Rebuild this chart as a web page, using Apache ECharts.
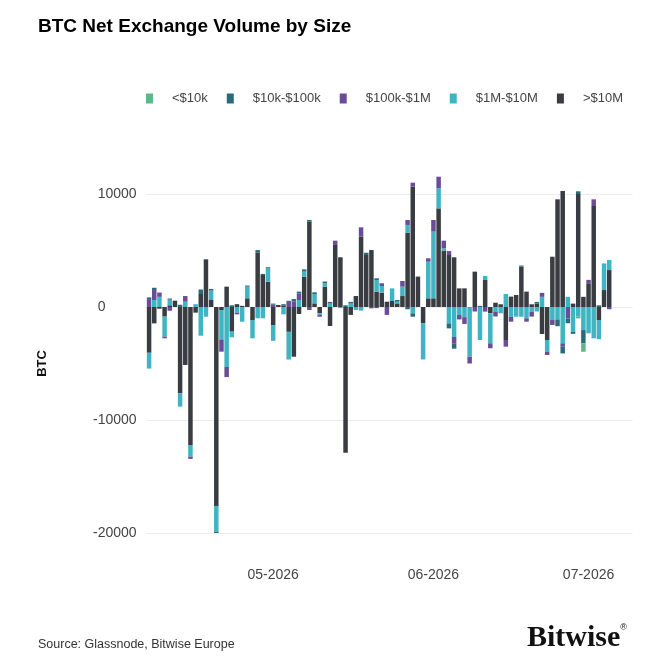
<!DOCTYPE html>
<html>
<head>
<meta charset="utf-8">
<script src="https://cdn.jsdelivr.net/npm/echarts@6/dist/echarts.min.js"></script>
<style>
  html, body { margin: 0; padding: 0; background: #fff; }
  #chart { width: 671px; height: 671px; }
</style>
</head>
<body>
<div id="chart"></div>
<script>
// daily categories, Apr 7 .. Jul 9 2026 (data ends Jul 5)
const startDay = Date.UTC(2026, 3, 7)
const dayCount = 94
const days = []
for (let i = 0; i < dayCount; i++) {
  days.push(new Date(startDay + i * 86400000).toISOString().slice(0, 10))
}

const legendNames = ['<$10k', '$10k-$100k', '$100k-$1M', '$1M-$10M', '>$10M']

// BTC
const over10M = [
  -4050, -1450, -150, -850, 150, 560, -7640, -5130, -12210, -500,
  1150, 4220, 620, -17600, -265, 1800, -2180, 250, 100, 770,
  -1150, 4800, 2830, 2240, -1600, 180, 150, -2200, -4400, -620,
  2690, 7550, 320, -560, 1800, -1680, 5490, 4400, -12900, -700,
  970, 6220, 4600, 5040, 1360, 1270, 470, 530, 320, 970,
  6580, 10650, 2690, -1450, 770, 770, 8730, 4990, 4600, 4400,
  1650, 1650, 0, 3130, 0, 2390, -560, 380, 240, -2920,
  920, 1060, 3570, 1360, 240, 300, -2390, -2920, 4450, 9530,
  10270, 0, 300, 10000, 900, 2100, 8940, -1150, 1500, 3270
]
const m1to10M = [
  -1400, 620, 900, -1770, 500, 0, -1180, 470, -1030, 250,
  -2540, -860, 830, -2280, -2600, -5300, -500, -500, -1300, 1030,
  -1620, -1000, -1000, 1180, -1390, 0, -650, -2450, 0, 620,
  440, 0, 830, -150, 300, 300, 0, -100, 0, 300,
  -260, -320, 0, 0, 1030, 590, 0, 1120, 150, 830,
  680, -560, 0, -3190, 3240, 5900, 1770, 200, -1450, -2650,
  -700, -900, -4400, 0, -2920, 350, -2650, -400, -560, 1150,
  -860, -860, -860, -1000, -410, -400, 900, -1030, -1150, -1100,
  -3210, 900, -2180, -860, -2040, -2330, -2770, -1700, 2360, 890
]
const k100to1M = [
  700, 880, 380, -150, -330, 0, 0, 500, -200, 0,
  0, 0, 0, 0, -1090, -900, 0, -150, 0, 0,
  0, 0, 0, 0, 200, 0, 0, 450, 500, 590,
  0, -270, 0, -150, 0, 150, 380, 0, 0, 0,
  0, 830, 0, -120, -100, 240, -700, 0, 0, 500,
  440, 350, 0, 0, 300, 1030, 1030, 680, 350, -600,
  -400, -600, -600, -400, 0, -410, -440, -440, 0, -590,
  -440, 0, 0, -300, -440, 0, 350, -300, -440, 0,
  -300, -1000, 0, 0, 0, 300, 590, 0, 0, -200
]
const k10to100k = [
  150, 200, 0, 0, 100, 0, 200, 0, 0, 0,
  400, 0, 150, -120, 0, 0, 150, 0, 0, 100,
  0, 240, 100, 100, 100, 0, 100, 100, 200, 150,
  200, 150, 150, 0, 150, 0, 0, 0, 150, 150,
  0, 0, 200, 0, 150, 0, 0, 0, 150, 0,
  -200, -300, 0, 0, 0, 0, 0, 0, -440, -440,
  0, 0, 0, 0, 100, 0, 0, 0, 0, 0,
  0, 0, 100, 0, 0, 150, 0, 0, 0, -600,
  -600, -440, -200, 240, -1180, 0, 0, 150, 0, 0
]
const under10k = [
  0, 0, 0, 0, 0, 0, 0, 0, 0, 0,
  0, 0, 0, 0, 0, 0, 0, 0, 0, 0,
  0, 0, 0, 0, 0, 0, 0, 0, 0, 0,
  0, 0, 0, 0, 0, 0, 0, 0, 0, 0,
  0, 0, 0, 0, 0, 0, 0, 0, 0, 0,
  0, 0, 0, 0, 0, 0, 0, 0, 0, 0,
  0, 0, 0, 0, 0, 0, 0, 0, 0, 0,
  0, 0, 0, 0, 0, 0, 0, 0, 0, 0,
  0, 0, 0, -150, -740, 0, 0, 0, 0, 0
]

const colors = {
  '<$10k': '#5cb88a',
  '$10k-$100k': '#2a6b79',
  '$100k-$1M': '#6a4c98',
  '$1M-$10M': '#3fb4c2',
  '>$10M': '#393c40',
}

const font = 'Liberation Sans, Arial, sans-serif'

// stack order from zero outwards: >$10M first
const stackOrder = [
  ['>$10M', over10M],
  ['$1M-$10M', m1to10M],
  ['$100k-$1M', k100to1M],
  ['$10k-$100k', k10to100k],
  ['<$10k', under10k],
]

const chart = echarts.init(document.getElementById('chart'))

chart.setOption({
  animation: false,
  backgroundColor: '#fff',
  title: {
    text: 'BTC Net Exchange Volume by Size',
    left: 38,
    top: 17,
    padding: 0,
    textStyle: { fontFamily: font, fontSize: 19, fontWeight: 'bold', color: '#000' },
  },
  legend: {
    data: legendNames,
    left: 141,
    top: 87,
    icon: 'rect',
    itemWidth: 7,
    itemHeight: 10,
    itemGap: 19,
    textStyle: { fontFamily: font, fontSize: 13, color: '#444', padding: [0, 0, 0, 14] },
  },
  grid: { left: 146.5, right: 38.5, top: 194, bottom: 138 },
  xAxis: {
    type: 'category',
    data: days,
    axisLine: { show: false },
    axisTick: { show: false },
    axisLabel: {
      color: '#444',
      fontFamily: font,
      fontSize: 14,
      margin: 35,
      interval: (idx, val) => val.slice(8) === '01',
      formatter: (val) => val.slice(5, 7) + '-' + val.slice(0, 4),
    },
  },
  yAxis: {
    type: 'value',
    min: -20000,
    max: 10000,
    interval: 10000,
    name: 'BTC',
    nameLocation: 'middle',
    nameGap: 98,
    nameTextStyle: { fontFamily: font, fontSize: 13, fontWeight: 'bold', color: '#111' },
    axisLine: { show: false },
    axisTick: { show: false },
    axisLabel: {
      color: '#444',
      fontFamily: font,
      fontSize: 14,
      align: 'left',
      margin: 53.5,
      // digits line up, the minus sign hangs to the left
      formatter: (v) => (v < 0 ? '-' + Math.abs(v) : '{h|-}' + v),
      rich: { h: { color: 'rgba(0,0,0,0)', fontFamily: font, fontSize: 14 } },
    },
    splitLine: { lineStyle: { color: '#ececec', width: 1 } },
  },
  series: stackOrder.map(([name, values]) => ({
    name,
    type: 'bar',
    stack: 'total',
    barWidth: '87%',
    clip: false,
    itemStyle: { color: colors[name] },
    emphasis: { disabled: true },
    data: values,
  })),
  graphic: [
    {
      type: 'text',
      left: 38,
      top: 638,
      style: { text: 'Source: Glassnode, Bitwise Europe', font: '12.5px ' + font, fill: '#333' },
    },
    {
      type: 'text',
      left: 527,
      top: 623,
      style: {
        text: '{b|Bitwise}{r|®}',
        rich: {
          b: { font: 'bold 30px Liberation Serif, Times New Roman, serif', fill: '#111' },
          r: { font: '9px Liberation Sans, sans-serif', fill: '#111', verticalAlign: 'top', padding: [0, 0, 10, 0] },
        },
      },
    },
  ],
})
</script>
</body>
</html>
